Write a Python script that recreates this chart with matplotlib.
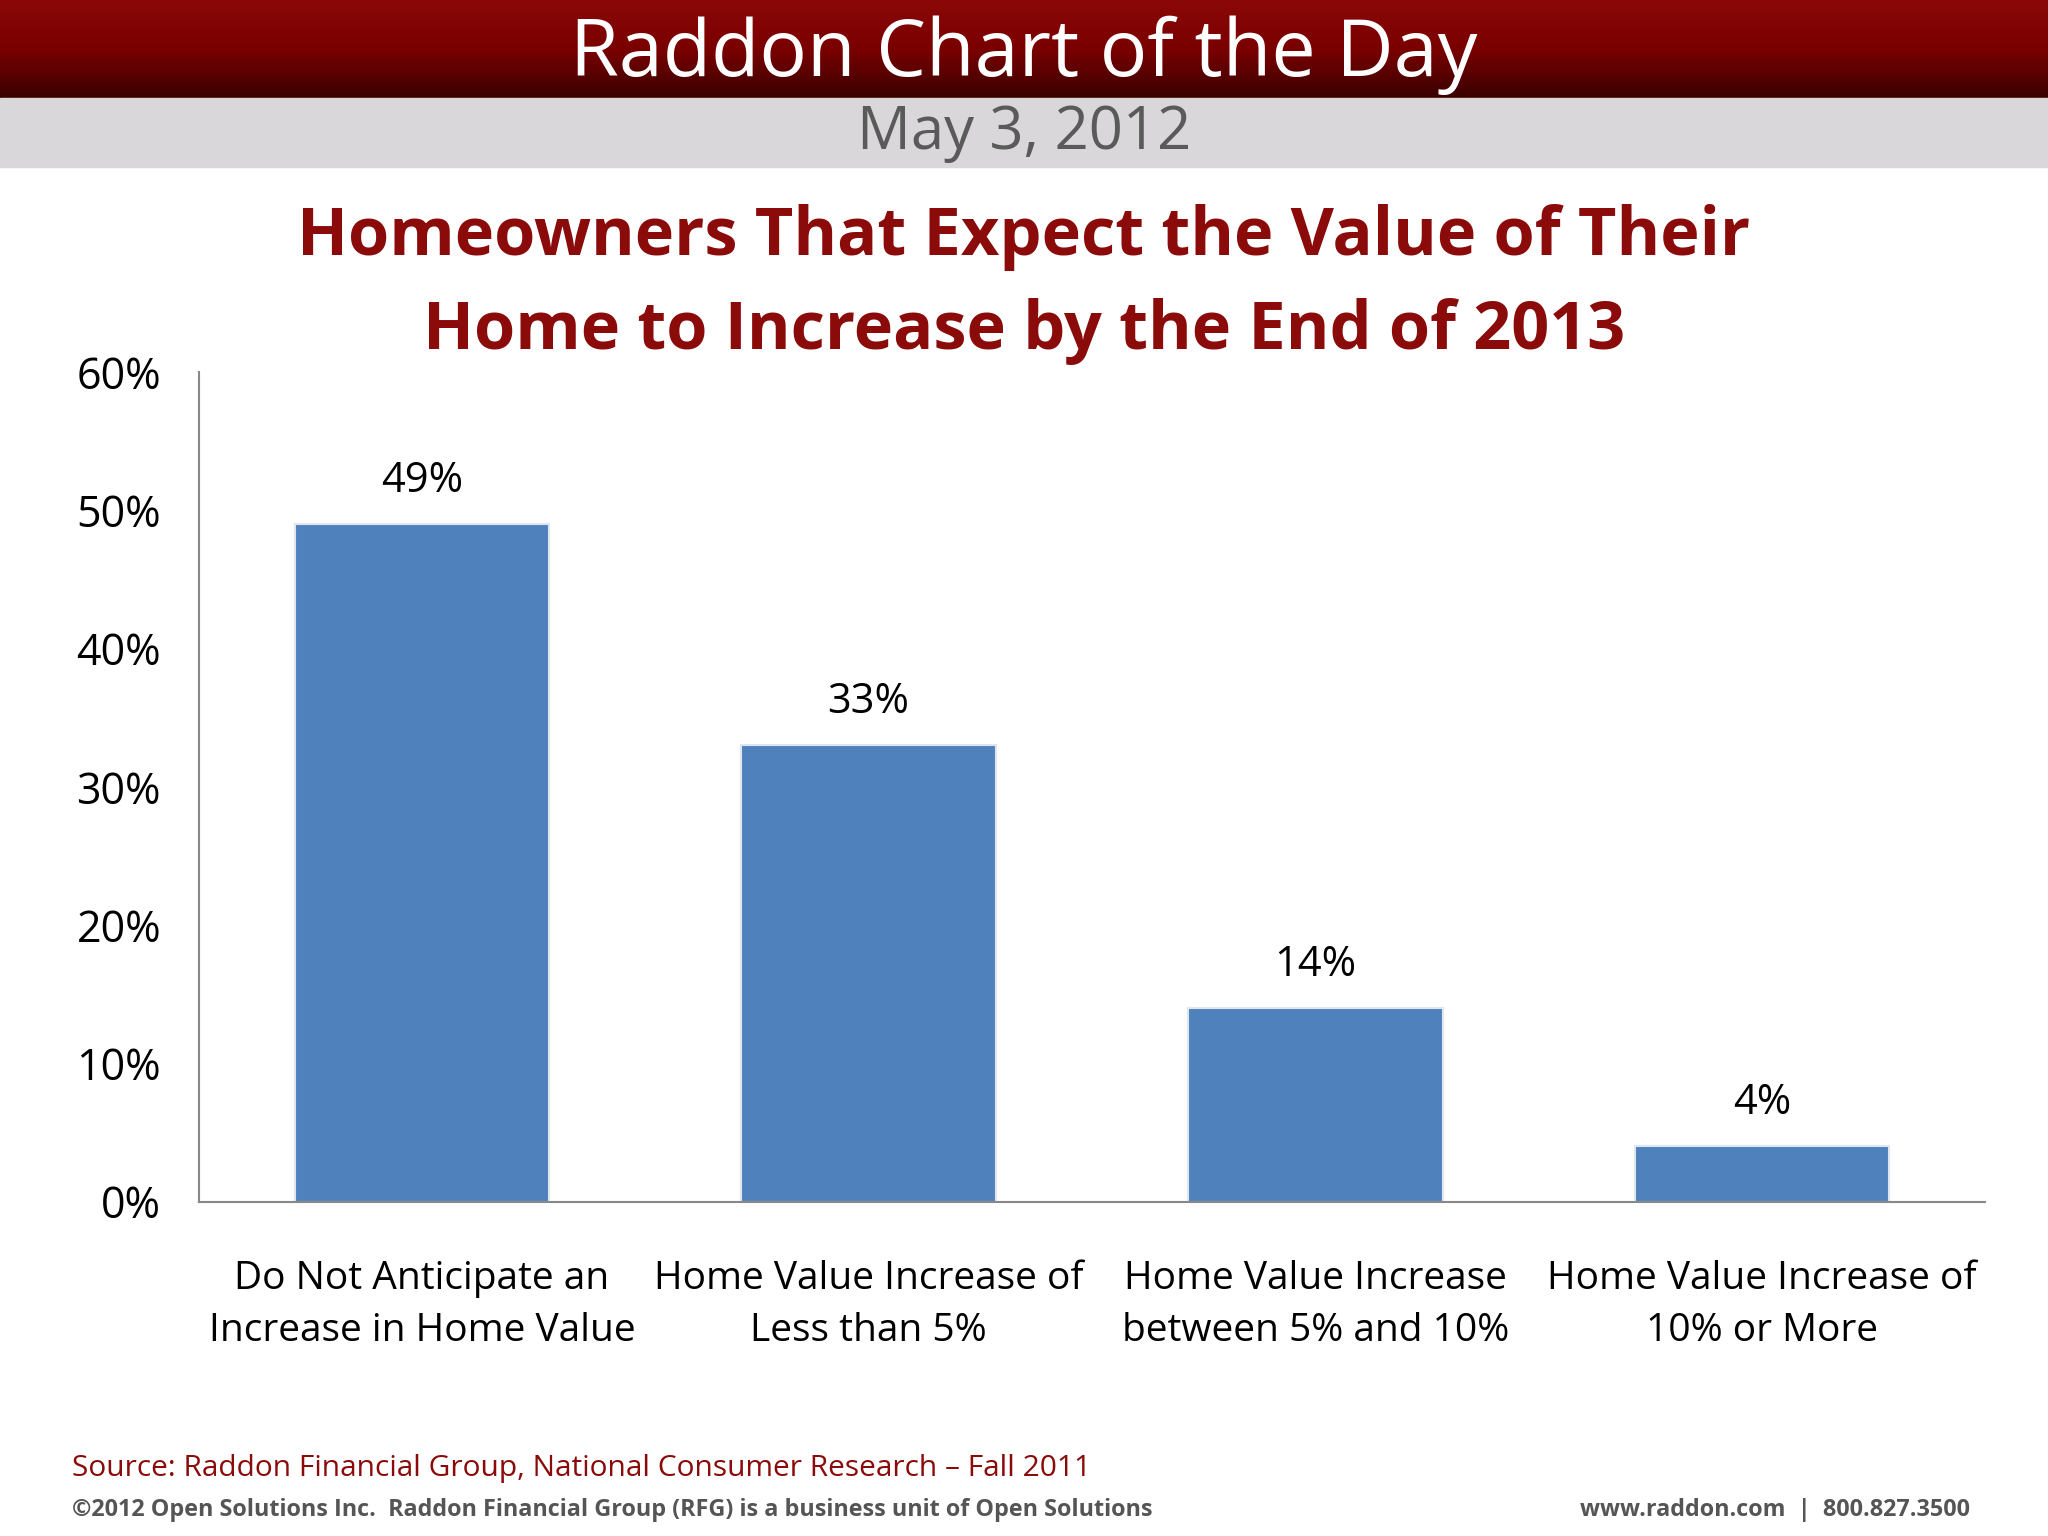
import matplotlib
matplotlib.use("Agg")
import matplotlib.pyplot as plt
import numpy as np
from matplotlib.patches import Rectangle
from matplotlib.colors import LinearSegmentedColormap

categories = ["Do Not Anticipate an\nIncrease in Home Value", "Home Value Increase of\nLess than 5%",
              "Home Value Increase\nbetween 5% and 10%", "Home Value Increase of\n10% or More"]
values = [0.49, 0.33, 0.14, 0.04]
labels = ["49%", "33%", "14%", "4%"]
yticks = [0, 0.1, 0.2, 0.3, 0.4, 0.5, 0.6]
yticklabels = ["0%", "10%", "20%", "30%", "40%", "50%", "60%"]

plt.rcParams['font.family'] = ['Open Sans', 'DejaVu Sans']
fig = plt.figure(figsize=(20.48, 15.36), dpi=100)
W, H = 1568, 1176
def fy(p): return 1 - p / H

grad = np.linspace(0, 1, 100).reshape(-1, 1)
hax = fig.add_axes([0, fy(75), 1, 75 / H])
cm = LinearSegmentedColormap.from_list("r", ["#3a0000", "#7a0000", "#8a0808"])
hax.imshow(grad, aspect='auto', cmap=cm, extent=[0, 1, 0, 1], origin='lower')
hax.axis('off')
fig.patches.append(Rectangle((0, fy(128)), 1, 53 / H, transform=fig.transFigure, color="#d9d7d9", zorder=0))
fig.text(0.5, fy(42), "Raddon Chart of the Day", color="white", fontsize=57, ha="center", va="center")
fig.text(0.5, fy(102), "May 3, 2012", color="#5a5a5a", fontsize=43, ha="center", va="center")
fig.text(0.5, fy(218), "Homeowners That Expect the Value of Their\nHome to Increase by the End of 2013",
         color="#8b0a0a", fontsize=48, fontweight="bold", ha="center", va="center", linespacing=1.52)

ax = fig.add_axes([152 / W, fy(920), (1520 - 152) / W, (920 - 285) / H])
x = np.arange(len(values))
ax.bar(x, values, width=0.57, color="#4f81bd", edgecolor="#dfe6ef", linewidth=1.5)
for xi, v, l in zip(x, values, labels):
    ax.text(xi, v + 0.016, l, ha="center", va="bottom", fontsize=30)
ax.set_xlim(-0.5, 3.5)
ax.set_ylim(0, 0.6)
ax.set_yticks(yticks)
ax.set_yticklabels(yticklabels, fontsize=31)
ax.set_xticks(x)
ax.set_xticklabels(categories, fontsize=28, linespacing=1.5)
ax.tick_params(length=0, axis='x', pad=42)
ax.tick_params(length=0, axis='y', pad=27)
for s in ["top", "right"]:
    ax.spines[s].set_visible(False)
for s in ["left", "bottom"]:
    ax.spines[s].set_color("#888888")
    ax.spines[s].set_linewidth(1.5)

fig.text(55 / W, fy(1124), "Source: Raddon Financial Group, National Consumer Research \u2013 Fall 2011",
         color="#8b0a0a", fontsize=21.5, va="center")
fig.text(55 / W, fy(1156), "\u00a92012 Open Solutions Inc.  Raddon Financial Group (RFG) is a business unit of Open Solutions",
         color="#555555", fontsize=16.8, fontweight="bold", va="center")
fig.text(1508 / W, fy(1156), "www.raddon.com  |  800.827.3500", color="#555555", fontsize=16.8,
         fontweight="bold", va="center", ha="right")
fig.savefig("out.png", dpi=100)
